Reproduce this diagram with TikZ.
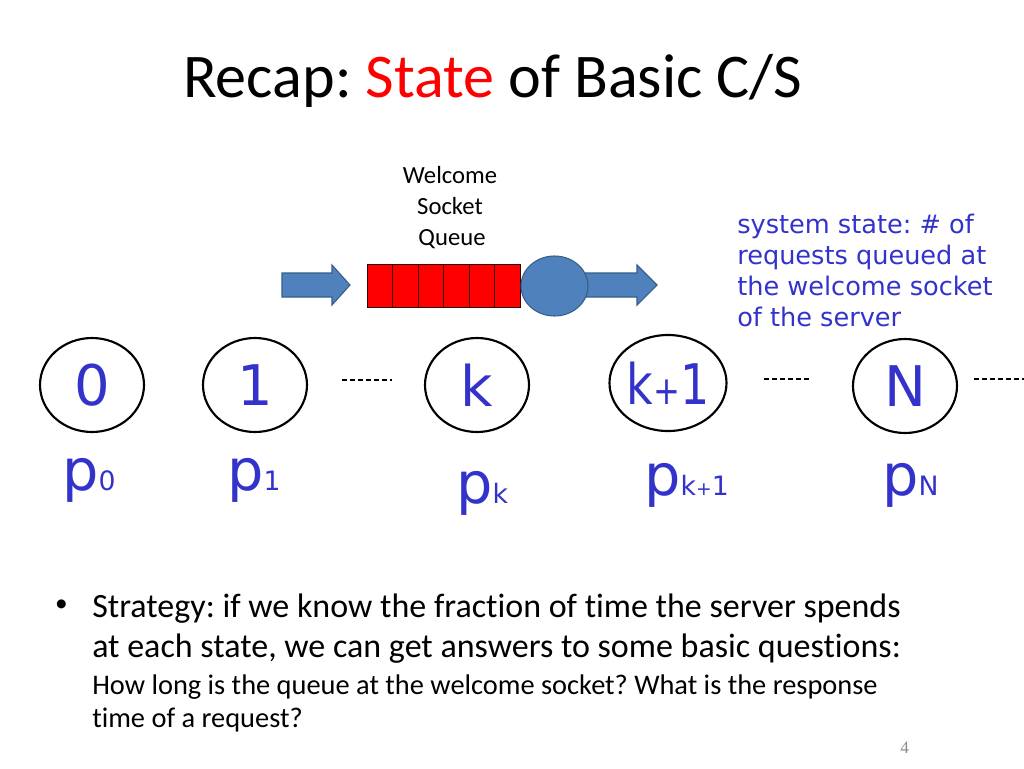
\documentclass[tikz,border=0pt]{standalone}
\usepackage{fontspec}
\setmainfont{Carlito}[Ligatures=NoCommon]
\newfontfamily\comic{DejaVu Sans}
\newfontfamily\numfont{Liberation Serif}
\usetikzlibrary{shapes.geometric,shapes.arrows,calc}
\definecolor{cblue}{RGB}{51,51,204}
\definecolor{qfill}{RGB}{79,129,189}
\definecolor{qline}{RGB}{56,93,138}
\definecolor{pgnum}{RGB}{140,140,140}
\newcommand{\fs}[1]{\fontsize{#1}{#1}\selectfont}
\newcommand{\smallplus}{\scalebox{0.7}{+}}
\frenchspacing
\tikzset{
  statebox/.style={draw=black, line width=1.6pt, ellipse, inner sep=0pt,
    minimum width=78pt, minimum height=70.5pt, text=cblue, font=\comic\fs{42pt}},
  plabel/.style={anchor=base west, inner sep=0pt, text=cblue},
  dotline/.style={draw=black, line width=0.8pt, dash pattern=on 3.75pt off 2.25pt},
  cell/.style={draw=black!80!red, line width=0.6pt, fill=red},
  bigarrow/.style={fill=qfill, draw=qline, line width=0.8pt},
  slidetext/.style={anchor=base west, inner sep=0pt},
}
\begin{document}
\begin{tikzpicture}[x=0.75pt, y=-0.75pt]
\useasboundingbox[fill=white] (0,0) rectangle (1024,768);

% title
\node[slidetext, font=\fs{46.6pt}] (title) at (183,97) {Recap: \textcolor{red}{State} of Basic C/S};

% welcome socket queue label
\node[inner sep=0pt, anchor=base, font=\fs{18.5pt}] (w1) at (450,183) {Welcome};
\node[inner sep=0pt, anchor=base, font=\fs{18.5pt}] (w2) at (450,214) {Socket};
\node[inner sep=0pt, anchor=base, font=\fs{18.5pt}] (w3) at (452,245) {Queue};

% input arrow
\draw[bigarrow] (282,273) -- (332,273) -- (332,265) -- (350,285) -- (332,305) -- (332,297) -- (282,297) -- cycle;

% queue cells
\foreach \i in {0,...,5}{
  \draw[cell] ({367+25.5*\i},264) rectangle ({367+25.5*(\i+1)},307);
}
% output arrow (behind the server)
\draw[bigarrow] (570,273) -- (637,273) -- (637,265) -- (657,285) -- (637,305) -- (637,297) -- (570,297) -- cycle;
% server
\node[ellipse, fill=qfill, draw=qline, line width=0.8pt, minimum width=50.25pt, minimum height=45pt, inner sep=0pt] (server) at (554.5,286) {};

% annotation
\node[slidetext, text=cblue, font=\comic\fs{19.2pt}] (a1) at (737,233) {system state: \# of};
\node[slidetext, text=cblue, font=\comic\fs{19.2pt}] (a2) at (737,264) {requests queued at};
\node[slidetext, text=cblue, font=\comic\fs{19.2pt}] (a3) at (737,295) {the welcome socket};
\node[slidetext, text=cblue, font=\comic\fs{19.2pt}] (a4) at (737,326) {of the server};

% states
\node[statebox] (s0) at (92,385) {0};
\node[statebox] (s1) at (255,385) {1};
\node[statebox] (sk) at (477,385) {k};
\node[statebox, minimum width=82.5pt, minimum height=72pt] (sk1) at (668,383) {\scalebox{0.82}[1]{k\smallplus1}};
\node[statebox] (sN) at (905,386) {N};
\coordinate (tail) at (1024,379);

% dashed separators
\draw[dotline] ([xshift=25.5pt,yshift=3.75pt]s1.east) -- ([xshift=-24pt,yshift=3.75pt]sk.west);
\draw[dotline] ([xshift=27pt,yshift=3pt]sk1.east) -- ([xshift=-31.5pt,yshift=5.25pt]sN.west);
\draw[dotline] ([xshift=12pt,yshift=5.25pt]sN.east) -- (tail);

% probabilities
\node[plabel] (p0) at (62,490) {\comic\fs{43pt}p\fs{20pt}0};
\node[plabel] (p1) at (227,490) {\comic\fs{43pt}p\fs{20pt}1};
\node[plabel] (pk) at (456,503) {\comic\fs{43pt}p\fs{20pt}k};
\node[plabel] (pk1) at (644,495) {\comic\fs{43pt}p\fs{20pt}k\smallplus1};
\node[plabel] (pN) at (882,495) {\comic\fs{43pt}p\fs{20pt}N};

% bullet text
\node[inner sep=0pt, font=\fs{19pt}] (bul) at (61.5,606) {\textbullet};
\node[slidetext, font=\fs{25.5pt}] (b1) at (92,617) {Strategy: if we know the fraction of time the server spends};
\node[slidetext, font=\fs{25.5pt}] (b2) at (92,657) {at each state, we can get answers to some basic questions:};
\node[slidetext, font=\fs{21.3pt}] (b3) at (92,694) {How long is the queue at the welcome socket? What is the response};
\node[slidetext, font=\fs{21.3pt}] (b4) at (92,727) {time of a request?};

% page number
\node[slidetext, text=pgnum, font=\numfont\fs{13pt}] (pg) at (900,753) {4};
\end{tikzpicture}
\end{document}
